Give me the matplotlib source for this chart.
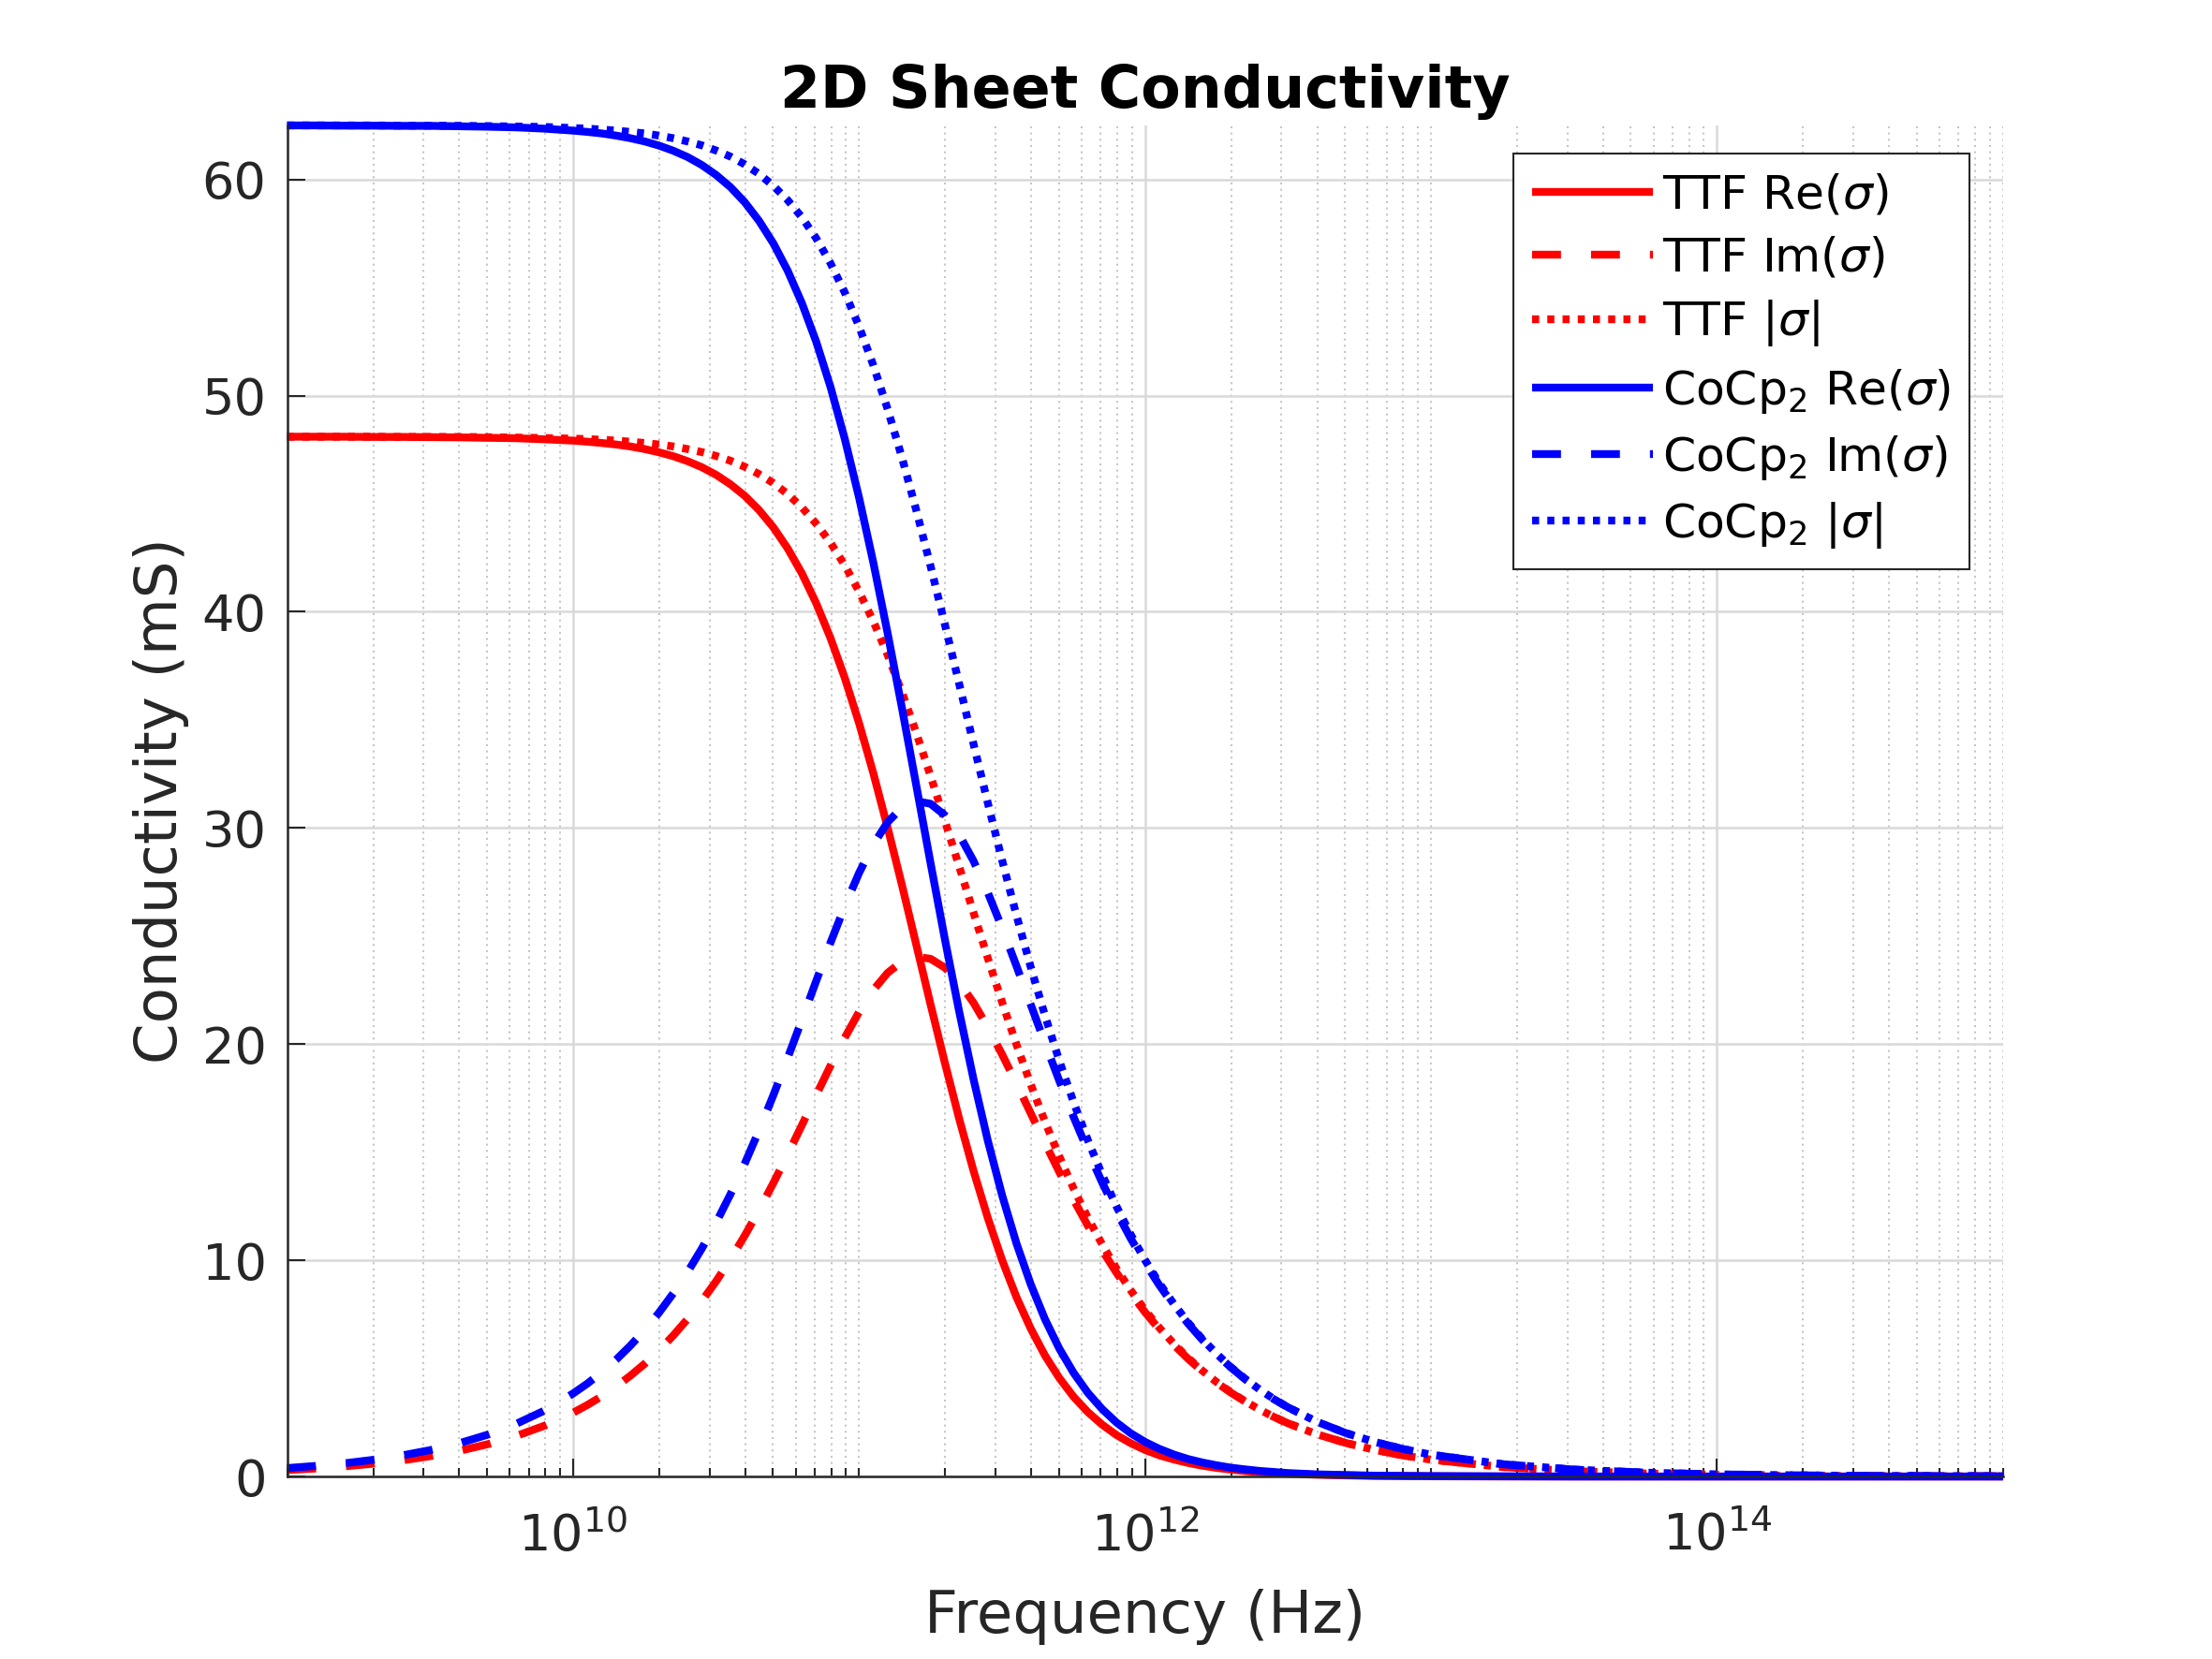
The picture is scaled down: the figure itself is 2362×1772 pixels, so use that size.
import matplotlib
matplotlib.use("Agg")
import matplotlib.pyplot as plt
from matplotlib.ticker import FixedLocator, NullFormatter, LogFormatterSciNotation

# ---------------- data ----------------
freq_hz = [
    1.000e9, 1.259e9, 1.585e9, 1.995e9, 2.512e9, 3.162e9, 3.981e9, 5.012e9, 6.310e9, 7.943e9,
    1.000e10, 1.122e10, 1.259e10, 1.413e10, 1.585e10, 1.778e10, 1.995e10, 2.239e10, 2.512e10, 2.818e10,
    3.162e10, 3.548e10, 3.981e10, 4.467e10, 5.012e10, 5.623e10, 6.310e10, 7.079e10, 7.943e10, 8.913e10,
    1.000e11, 1.122e11, 1.259e11, 1.413e11, 1.585e11, 1.778e11, 1.995e11, 2.239e11, 2.512e11, 2.818e11,
    3.162e11, 3.548e11, 3.981e11, 4.467e11, 5.012e11, 5.623e11, 6.310e11, 7.079e11, 7.943e11, 8.913e11,
    1.000e12, 1.122e12, 1.259e12, 1.413e12, 1.585e12, 1.778e12, 1.995e12, 2.239e12, 2.512e12, 2.818e12,
    3.162e12, 3.981e12, 5.012e12, 6.310e12, 7.943e12,
    1.000e13, 1.778e13, 3.162e13, 5.623e13, 1.000e14, 1.778e14, 3.162e14, 5.623e14, 1.000e15,
]

ttf_re = [
    48.10, 48.10, 48.10, 48.09, 48.09, 48.08, 48.07, 48.05, 48.03, 47.98,
    47.92, 47.87, 47.81, 47.74, 47.65, 47.53, 47.38, 47.20, 46.97, 46.69,
    46.34, 45.90, 45.37, 44.71, 43.91, 42.94, 41.78, 40.40, 38.79, 36.94,
    34.85, 32.53, 30.01, 27.35, 24.60, 21.84, 19.14, 16.55, 14.15, 11.97,
    10.02, 8.31, 6.85, 5.60, 4.56, 3.69, 2.98, 2.40, 1.92, 1.54,
    1.23, 0.98, 0.79, 0.63, 0.50, 0.40, 0.32, 0.25, 0.20, 0.16,
    0.13, 0.08, 0.05, 0.03, 0.02,
    0.01, 0.00, 0.00, 0.00, 0.00, 0.00, 0.00, 0.00, 0.00,
]
ttf_im = [
    0.30, 0.37, 0.47, 0.59, 0.74, 0.94, 1.18, 1.49, 1.87, 2.35,
    2.95, 3.31, 3.71, 4.16, 4.66, 5.21, 5.83, 6.52, 7.28, 8.11,
    9.03, 10.04, 11.14, 12.31, 13.57, 14.89, 16.25, 17.64, 19.00, 20.30,
    21.49, 22.51, 23.30, 23.82, 24.04, 23.95, 23.54, 22.85, 21.92, 20.79,
    19.53, 18.19, 16.81, 15.43, 14.09, 12.81, 11.60, 10.47, 9.43, 8.47,
    7.60, 6.81, 6.10, 5.45, 4.87, 4.35, 3.88, 3.47, 3.09, 2.76,
    2.46, 1.96, 1.56, 1.24, 0.98,
    0.78, 0.44, 0.25, 0.14, 0.08, 0.04, 0.02, 0.01, 0.01,
]
ttf_abs = [
    48.10, 48.10, 48.10, 48.10, 48.09, 48.09, 48.09, 48.08, 48.06, 48.04,
    48.01, 47.99, 47.96, 47.92, 47.87, 47.81, 47.74, 47.65, 47.53, 47.39,
    47.21, 46.99, 46.71, 46.37, 45.96, 45.45, 44.83, 44.08, 43.20, 42.15,
    40.94, 39.56, 38.00, 36.27, 34.40, 32.41, 30.34, 28.22, 26.09, 23.99,
    21.95, 20.00, 18.15, 16.42, 14.81, 13.33, 11.97, 10.74, 9.62, 8.61,
    7.70, 6.88, 6.15, 5.49, 4.90, 4.37, 3.90, 3.48, 3.10, 2.76,
    2.46, 1.96, 1.56, 1.24, 0.98,
    0.78, 0.44, 0.25, 0.14, 0.08, 0.04, 0.02, 0.01, 0.01,
]
cocp2_re = [
    62.50, 62.50, 62.49, 62.49, 62.48, 62.48, 62.46, 62.44, 62.41, 62.35,
    62.26, 62.20, 62.13, 62.03, 61.91, 61.76, 61.57, 61.33, 61.04, 60.67,
    60.21, 59.65, 58.95, 58.09, 57.05, 55.79, 54.28, 52.50, 50.41, 48.00,
    45.28, 42.27, 39.00, 35.54, 31.97, 28.38, 24.86, 21.51, 18.39, 15.55,
    13.02, 10.80, 8.90, 7.28, 5.92, 4.80, 3.87, 3.12, 2.50, 2.00,
    1.60, 1.28, 1.02, 0.81, 0.65, 0.52, 0.41, 0.33, 0.26, 0.21,
    0.16, 0.10, 0.07, 0.04, 0.03,
    0.02, 0.01, 0.00, 0.00, 0.00, 0.00, 0.00, 0.00, 0.00,
]
cocp2_im = [
    0.39, 0.49, 0.61, 0.77, 0.97, 1.22, 1.53, 1.93, 2.43, 3.05,
    3.84, 4.30, 4.82, 5.40, 6.05, 6.77, 7.57, 8.47, 9.45, 10.54,
    11.74, 13.05, 14.47, 16.00, 17.63, 19.35, 21.12, 22.92, 24.69, 26.38,
    27.92, 29.24, 30.27, 30.95, 31.24, 31.12, 30.59, 29.69, 28.48, 27.02,
    25.38, 23.63, 21.84, 20.05, 18.31, 16.64, 15.07, 13.60, 12.25, 11.01,
    9.88, 8.85, 7.92, 7.08, 6.33, 5.65, 5.05, 4.50, 4.02, 3.58,
    3.20, 2.54, 2.02, 1.61, 1.28,
    1.01, 0.57, 0.32, 0.18, 0.10, 0.06, 0.03, 0.02, 0.01,
]
cocp2_abs = [
    62.50, 62.50, 62.50, 62.50, 62.49, 62.49, 62.48, 62.47, 62.45, 62.43,
    62.38, 62.35, 62.31, 62.26, 62.20, 62.13, 62.03, 61.91, 61.76, 61.58,
    61.34, 61.06, 60.70, 60.26, 59.71, 59.05, 58.25, 57.28, 56.13, 54.77,
    53.20, 51.40, 49.37, 47.13, 44.70, 42.12, 39.42, 36.67, 33.90, 31.17,
    28.52, 25.98, 23.58, 21.33, 19.24, 17.32, 15.56, 13.96, 12.50, 11.19,
    10.01, 8.94, 7.99, 7.13, 6.36, 5.68, 5.06, 4.52, 4.03, 3.59,
    3.20, 2.54, 2.02, 1.61, 1.28,
    1.01, 0.57, 0.32, 0.18, 0.10, 0.06, 0.03, 0.02, 0.01,
]

series_labels = [
    r"TTF Re($\sigma$)", r"TTF Im($\sigma$)", r"TTF |$\sigma$|",
    r"CoCp$_2$ Re($\sigma$)", r"CoCp$_2$ Im($\sigma$)", r"CoCp$_2$ |$\sigma$|",
]
x_major_ticks = [1e10, 1e12, 1e14]
y_ticks = [0, 10, 20, 30, 40, 50, 60]
x_limits = (1e9, 1e15)
y_limits = (0, 62.5)

# ---------------- styling ----------------
plt.rcParams["font.family"] = ["DejaVu Sans"]
plt.rcParams["mathtext.fontset"] = "dejavusans"
DARK = "#262626"
LW = 2.0
DASH = (3.7, 3.85)
DOT = (0.9, 1.05)

fig = plt.figure(figsize=(2362 / 300, 1772 / 300), dpi=300)
ax = fig.add_axes([0.1298, 0.1100, 0.7757, 0.8144])

styles = [
    dict(color="#ff0000", ls="-"),
    dict(color="#ff0000", dashes=DASH),
    dict(color="#ff0000", dashes=DOT),
    dict(color="#0000ff", ls="-"),
    dict(color="#0000ff", dashes=DASH),
    dict(color="#0000ff", dashes=DOT),
]
data = [ttf_re, ttf_im, ttf_abs, cocp2_re, cocp2_im, cocp2_abs]
for ys, st, lab in zip(data, styles, series_labels):
    assert len(ys) == len(freq_hz)
    ax.plot(freq_hz, ys, lw=LW, label=lab, clip_on=False,
            dash_capstyle="butt", solid_capstyle="butt",
            solid_joinstyle="round", dash_joinstyle="round", **st)

ax.set_xscale("log")
ax.set_xlim(*x_limits)
ax.set_ylim(*y_limits)

ax.xaxis.set_major_locator(FixedLocator(x_major_ticks))
ax.xaxis.set_major_formatter(LogFormatterSciNotation())
minor = [k * 10.0 ** n for n in range(9, 16) for k in range(1, 10)]
minor = [m for m in minor if x_limits[0] <= m <= x_limits[1] * 1.0001
         and all(abs(m / t - 1) > 1e-6 for t in x_major_ticks)]
ax.xaxis.set_minor_locator(FixedLocator(minor))
ax.xaxis.set_minor_formatter(NullFormatter())
ax.yaxis.set_major_locator(FixedLocator(y_ticks))
ax.yaxis.set_minor_locator(FixedLocator([]))

ax.set_axisbelow(True)
ax.grid(which="major", color="#d9d9d9", lw=0.6, ls="-")
ax.grid(which="minor", axis="x", color="#c6c6c6", lw=0.5, ls=(0, (1.0, 2.2)))

for s in ("top", "right"):
    ax.spines[s].set_visible(False)
for s in ("left", "bottom"):
    ax.spines[s].set_color(DARK)
    ax.spines[s].set_linewidth(0.6)

ax.tick_params(which="both", direction="in", colors=DARK, width=0.5,
               top=False, right=False, labelsize=13)
ax.tick_params(which="major", length=4.6)
ax.tick_params(which="minor", length=2.2)
ax.tick_params(axis="y", pad=5.3)
ax.tick_params(axis="x", pad=9.0)

ax.set_xlabel("Frequency (Hz)", fontsize=15, color=DARK, labelpad=7)
ax.set_ylabel("Conductivity (mS)", fontsize=15, color=DARK, labelpad=3.2)
ax.set_title("2D Sheet Conductivity", fontsize=14.85, fontweight="bold",
             color="black", pad=4.5)

leg = ax.legend(loc="upper right", bbox_to_anchor=(0.9805, 0.9792),
                borderaxespad=0, fontsize=12.1, frameon=True, fancybox=False,
                framealpha=1, edgecolor=DARK, borderpad=0.4,
                handlelength=2.55, handletextpad=0.2, labelspacing=0.38)
leg.get_frame().set_linewidth(0.5)

fig.savefig("out.png", dpi=300)
